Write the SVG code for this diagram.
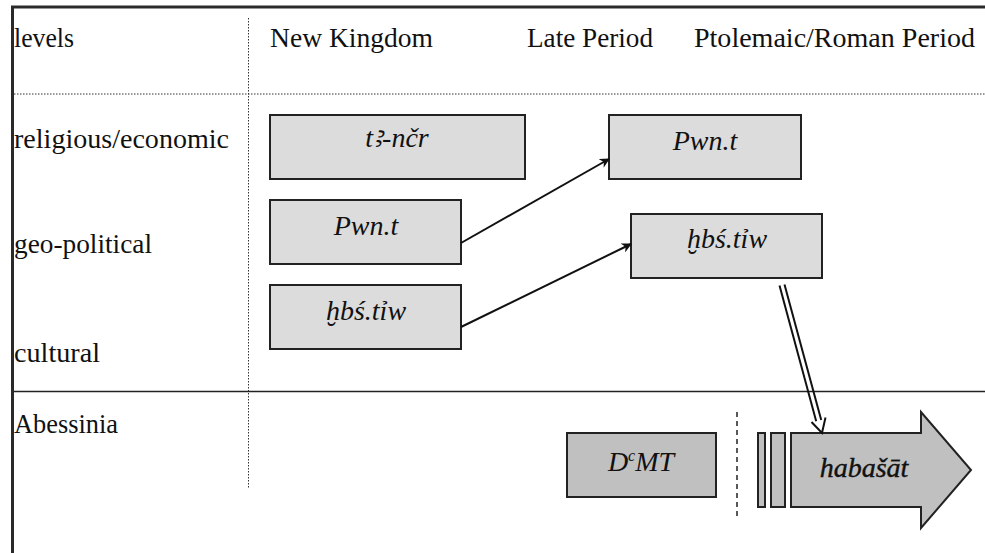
<svg xmlns="http://www.w3.org/2000/svg" width="985" height="553" viewBox="0 0 985 553">
<style>
.lbl{font-family:"Liberation Serif","DejaVu Serif",serif;font-size:26.5px;fill:#111}
.it{font-family:"Liberation Serif","DejaVu Serif",serif;font-size:28px;font-style:italic;fill:#111}
.box{fill:#dcdcdc;stroke:#222;stroke-width:2}
.box2{fill:#c0c0c0;stroke:#222;stroke-width:2}
.conn{stroke:#111;stroke-width:2;fill:none}
</style>
<defs>
<marker id="ah" viewBox="0 0 10 10" refX="9" refY="5" markerWidth="5" markerHeight="5" orient="auto" markerUnits="strokeWidth">
<path d="M0,0 L10,5 L0,10 L3,5 Z" fill="#111"/>
</marker>
</defs>
<rect width="985" height="553" fill="#fff"/>
<g id="frame">
<line x1="11" y1="7" x2="985" y2="7" stroke="#2a2a2a" stroke-width="3"/>
<line x1="12.5" y1="6" x2="12.5" y2="553" stroke="#2a2a2a" stroke-width="3"/>
<line x1="14" y1="94" x2="985" y2="94" stroke="#333" stroke-width="1" stroke-dasharray="1.5,1.5"/>
<line x1="248.5" y1="18" x2="248.5" y2="488" stroke="#333" stroke-width="1" stroke-dasharray="1.5,1.5"/>
<line x1="14" y1="391.5" x2="985" y2="391.5" stroke="#222" stroke-width="1.5"/>
<line x1="737" y1="412" x2="737" y2="518" stroke="#222" stroke-width="1.5" stroke-dasharray="5,4"/>
</g>
<g id="labels">
<text class="lbl" x="14" y="47" textLength="60" lengthAdjust="spacingAndGlyphs">levels</text>
<text class="lbl" x="270" y="47" textLength="163" lengthAdjust="spacingAndGlyphs">New Kingdom</text>
<text class="lbl" x="527" y="47" textLength="126" lengthAdjust="spacingAndGlyphs">Late Period</text>
<text class="lbl" x="694" y="47" textLength="281" lengthAdjust="spacingAndGlyphs">Ptolemaic/Roman Period</text>
<text class="lbl" x="14" y="148" textLength="215" lengthAdjust="spacingAndGlyphs">religious/economic</text>
<text class="lbl" x="14" y="253" textLength="138" lengthAdjust="spacingAndGlyphs">geo-political</text>
<text class="lbl" x="14" y="362" textLength="86" lengthAdjust="spacingAndGlyphs">cultural</text>
<text class="lbl" x="14" y="433" textLength="104" lengthAdjust="spacingAndGlyphs">Abessinia</text>
</g>
<g id="n-t3ncr">
<rect class="box" x="270" y="115" width="255" height="64"/>
<text class="it" x="397" y="147" text-anchor="middle">tꜣ-nčr</text>
</g>
<g id="n-pwnt-late">
<rect class="box" x="609" y="115" width="192" height="64"/>
<text class="it" x="705" y="150" text-anchor="middle">Pwn.t</text>
</g>
<g id="n-pwnt-nk">
<rect class="box" x="270" y="200" width="191" height="64"/>
<text class="it" x="366" y="235" text-anchor="middle">Pwn.t</text>
</g>
<g id="n-hbstiw-nk">
<rect class="box" x="270" y="285" width="191" height="64"/>
<text class="it" x="366" y="320" text-anchor="middle">ḫbś.tỉw</text>
</g>
<g id="n-hbstiw-late">
<rect class="box" x="631" y="214" width="191" height="64"/>
<text class="it" x="727" y="248" text-anchor="middle">ḫbś.tỉw</text>
</g>
<g id="n-dmt">
<rect class="box2" x="567" y="433" width="149" height="64"/>
<text class="it" x="641" y="471" text-anchor="middle">D<tspan font-size="16" dy="-10">c</tspan><tspan dy="10">MT</tspan></text>
</g>
<g id="n-habasat">
<rect class="box2" x="758" y="433" width="7" height="74"/>
<rect class="box2" x="771" y="433" width="14" height="74"/>
<path class="box2" d="M791,433 L921,433 L921,412 L971,470 L921,528 L921,507 L791,507 Z"/>
<text class="it" x="864" y="477" text-anchor="middle" font-size="25" stroke="#111" stroke-width="0.4">habašāt</text>
</g>
<g id="connectors">
<line class="conn" x1="461" y1="243" x2="609" y2="159" marker-end="url(#ah)"/>
<line class="conn" x1="461" y1="327" x2="631" y2="244" marker-end="url(#ah)"/>
<g stroke="#111" stroke-width="2" fill="none" stroke-linejoin="miter">
<line x1="784.5" y1="284.4" x2="821.2" y2="420"/>
<line x1="779.5" y1="285.6" x2="816.2" y2="421.3"/>
<polyline points="825.5,417.5 822,433 811.5,422"/>
</g>
</g>
</svg>
